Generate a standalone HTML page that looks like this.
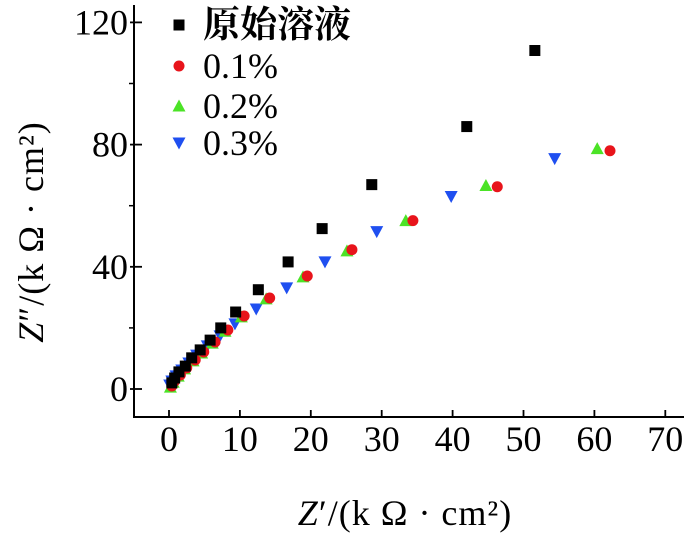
<!DOCTYPE html>
<html><head><meta charset="utf-8">
<style>
html,body{margin:0;padding:0;background:#fff;}
svg{display:block;font-family:"Liberation Serif","Noto Serif CJK SC",serif;}
</style></head>
<body>
<svg id="chart" width="693" height="536" viewBox="0 0 693 536">
<g id="axes"></g>
<g id="marks"></g>
<g id="legend"></g>
</svg>
<script>
const xTicks=[0,10,20,30,40,50,60,70];
const yTicks=[0,40,80,120];
const yMinor=[20,60,100];
const seriesNames=["原始溶液","0.1%","0.2%","0.3%"];
const blackX=[51.6,42.0,28.6,21.6,16.8,12.6,9.4,7.3,5.8,4.4,3.2,2.3,1.4,0.8,0.4];
const blackY=[110.8,85.9,66.9,52.5,41.6,32.5,25.2,20,16,12.8,10.2,7.5,5.6,3.6,2];
const redX=[62.2,46.3,34.4,25.8,19.5,14.2,10.6,8.3,6.5,4.9,3.7,2.5,1.6,0.8,0.4];
const redY=[78,66.2,55.1,45.6,37,29.8,23.9,19.3,15.4,12.1,9.5,6.9,4.6,2.6,1];
const greenX=[60.4,44.7,33.4,25.1,18.9,13.7,10.2,7.9,6.1,4.6,3.4,2.2,1.3,0.6,0.2];
const greenY=[78.7,66.6,55.1,45.2,36.7,29.5,23.6,18.9,15.0,11.8,9.2,6.6,4.2,2.2,0.6];
const blueX=[54.4,39.8,29.3,22,16.6,12.3,9.3,7.2,5.4,3.9,2.8,1.8,1,0.4,0.1];
const blueY=[75.4,63,51.5,41.6,33.1,26.2,21.3,17.4,14.1,11.1,8.5,6.2,4.3,2.6,1.3];

const NS="http://www.w3.org/2000/svg";
const X0=134,X1=684,Y0=5,Y1=417;
function sx(v){return 169+v*7.09;}
function sy(v){return 389-v*3.055;}
function mk(tag,attrs,parent){const e=document.createElementNS(NS,tag);for(const k in attrs)e.setAttribute(k,attrs[k]);parent.appendChild(e);return e;}
const axes=document.getElementById('axes');
let l=mk('line',{x1:X0,y1:Y0,x2:X0,y2:Y1+1,stroke:'#000','stroke-width':2},axes);


l=mk('line',{x1:X0-1,y1:Y1,x2:X1,y2:Y1,stroke:'#000','stroke-width':2},axes);


xTicks.forEach(v=>{
  const t=mk('line',{x1:sx(v),y1:Y1,x2:sx(v),y2:Y1-7,stroke:'#000','stroke-width':1.8},axes);
  
  
  const tx=mk('text',{x:sx(v),y:451,'font-size':36,'text-anchor':'middle'},axes);
  tx.textContent=v;
  
  
});
yTicks.forEach(v=>{
  const t=mk('line',{x1:X0-4,y1:sy(v),x2:X0+8,y2:sy(v),stroke:'#000','stroke-width':1.8},axes);
  
  
  const tx=mk('text',{x:X0-6,y:sy(v)+12,'font-size':36,'text-anchor':'end'},axes);
  tx.textContent=v;
  
  
});
yMinor.forEach(v=>{
  const t=mk('line',{x1:X0-5,y1:sy(v),x2:X0,y2:sy(v),stroke:'#000','stroke-width':1.5},axes);
  
  
});
let tt=mk('text',{x:405,y:525,'font-size':36,'text-anchor':'middle','letter-spacing':1},axes);
tt.innerHTML='<tspan font-style="italic">Z</tspan>′/(k Ω · cm²)';


tt=mk('text',{x:0,y:0,'font-size':36,'text-anchor':'middle','letter-spacing':1,transform:'translate(43,232) rotate(-90)'},axes);
tt.innerHTML='<tspan font-style="italic">Z</tspan>″/(k Ω · cm²)';



function marker(kind,cx,cy,parent){
  if(kind==0)return mk('rect',{x:cx-5.5,y:cy-5.5,width:11,height:11,fill:'#000'},parent);
  if(kind==1)return mk('circle',{cx:cx,cy:cy,r:5.5,fill:'#e8141b'},parent);
  if(kind==2)return mk('polygon',{points:`${cx},${cy-6.5} ${cx+6.5},${cy+5.5} ${cx-6.5},${cy+5.5}`,fill:'#4be326'},parent);
  return mk('polygon',{points:`${cx-6.5},${cy-5.5} ${cx+6.5},${cy-5.5} ${cx},${cy+6.5}`,fill:'#1f4ff0'},parent);
}
const marks=document.getElementById('marks');
const all=[[blackX,blackY],[redX,redY],[greenX,greenY],[blueX,blueY]];
const snames=['series-original','series-0-1','series-0-2','series-0-3'];
[3,2,1,0].forEach(k=>{
  const g=mk('g',{},marks);
  
  
  const [xs,ys]=all[k];
  xs.forEach((xv,i)=>{
    const m=marker(k,sx(xv),sy(ys[i]),g);
    
    
  });
});
const legend=document.getElementById('legend');


const ly=[25,66,106,143];
seriesNames.forEach((n,k)=>{
  const g=mk('g',{},legend);
  
  
  marker(k,179,ly[k],g);
  const t=mk('text',{x:203,y:ly[k]+12,'font-size':k==0?37:36,'font-weight':k==0?'bold':'normal'},g);
  if(k==0)t.setAttribute('font-family','"Noto Serif CJK SC","Noto Sans CJK SC",serif');
  t.textContent=n;
});
</script>
</body></html>
